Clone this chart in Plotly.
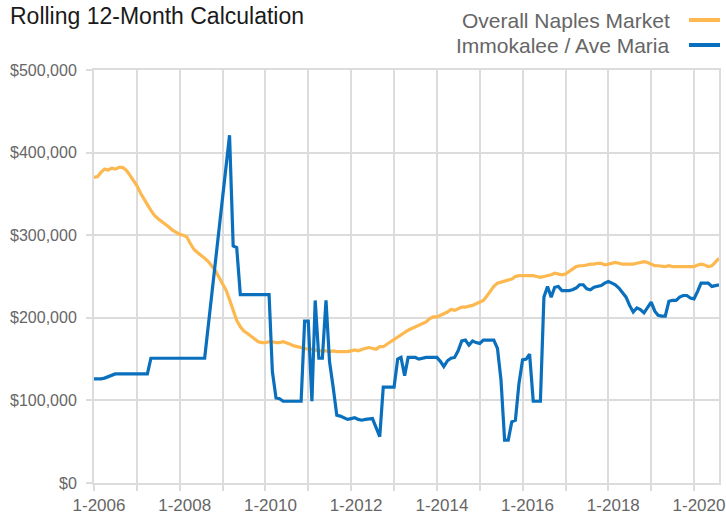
import pandas as pd
import plotly.graph_objects as go

# Monthly observations, Jan 2006 through Aug 2020
months = pd.date_range("2006-01-01", periods=176, freq="MS")

tick_years = list(range(2006, 2021, 2))
tick_vals = [f"{y}-01-01" for y in tick_years]
tick_text = [f"1-{y}" for y in tick_years]

series_names = ["Overall Naples Market", "Immokalee / Ave Maria"]
series_colors = ["#fdb84f", "#0a70bd"]

# Rolling 12-month values, in thousands of dollars
naples_k = [
    370, 371, 376, 380, 379, 381, 380, 382, 382, 379, 373, 367,
    360, 351, 345, 337, 330, 324, 320, 317, 314, 310, 306, 303,
    301, 300, 298, 290, 283, 279, 276, 272, 268, 263, 257, 249,
    240, 233, 222, 208, 197, 189, 184, 181, 178, 174, 171, 170,
    170, 171, 171, 170, 170, 171, 170, 168, 166, 165, 164, 163,
    162, 162, 161, 160, 160, 160, 159, 160, 159, 159, 159, 159,
    160, 161, 160, 162, 163, 164, 163, 162, 165, 165, 168, 171,
    174, 177, 180, 183, 185, 187, 189, 191, 193, 195, 199, 201,
    201, 203, 205, 207, 210, 209, 211, 213, 213, 214, 215, 217,
    219, 221, 226, 232, 238, 242, 243, 244, 245, 247, 250, 251,
    251, 251, 251, 251, 250, 249, 250, 251, 252, 254, 253, 252,
    253, 256, 258, 262, 263, 263, 264, 265, 265, 266, 266, 264,
    265, 266, 267, 266, 265, 265, 265, 265, 266, 267, 268, 267,
    265, 263, 263, 262, 262, 263, 262, 262, 262, 262, 262, 262,
    262, 264, 265, 264, 262, 263, 267, 272,
]

# None marks months with no sales; the line is drawn straight across them
immokalee_k = [
    126, 126, 126, 127, 129, 130, 132, 132, 132, 132, 132, 132,
    132, 132, 132, 132, 151, 151, 151, 151, 151, 151, 151, 151,
    151, 151, 151, 151, 151, 151, 151, 151, None, None, None, None,
    None, None, 421, 287, 285, 228, 228, 228, 228, 228, 228, 228,
    228, 228, 135, 103, 102, 99, 99, 99, 99, 99, 99, 196,
    196, 99, 221, 151, 151, 221, 147, 116, 82, 81, 79, 77,
    78, 79, 77, 76, 77, 78, 78, 67, 56, 116, 116, 116,
    116, 150, 152, 130, 152, 152, 152, 150, 151, 152, 152, 152,
    152, 147, 141, 148, 151, 152, 160, 172, 173, 167, 172, 170,
    169, 173, 173, 173, 173, 163, 125, 52, 52, 74, 76, 120,
    149, 150, 156, 99, 99, 99, 225, 238, 225, 237, 238, 233,
    233, 233, 234, 236, 240, 240, 235, 234, 237, 238, 239, 242,
    244, 242, 240, 236, 231, 225, 215, 207, 212, 210, 206, 212,
    219, 208, 203, 202, 202, 220, 221, 221, 225, 227, 227, 224,
    223, 232, 242, 242, 242, 238, 239, 240,
]


def to_dollars(values):
    return [None if v is None else v * 1000 for v in values]


GRID = "#dcdcdc"
LABEL_GRAY = "#666666"

fig = go.Figure()
fig.add_trace(go.Scatter(
    x=months, y=to_dollars(naples_k), name=series_names[0], mode="lines",
    line=dict(color=series_colors[0], width=3.2),
))
fig.add_trace(go.Scatter(
    x=months, y=to_dollars(immokalee_k), name=series_names[1], mode="lines",
    connectgaps=True, line=dict(color=series_colors[1], width=3.2),
))

fig.update_layout(
    width=726, height=515,
    margin=dict(l=94, r=7, t=70, b=32),
    paper_bgcolor="white", plot_bgcolor="white",
    showlegend=False,
    font=dict(family="Liberation Sans, Arial, sans-serif"),
    title=dict(
        text="Rolling 12-Month Calculation",
        x=10 / 726, xanchor="left", xref="container",
        y=1 - 16 / 515, yanchor="middle", yref="container",
        font=dict(size=23, color="#1a1a1a"),
    ),
)

fig.update_xaxes(
    type="date", range=["2006-01-01", "2020-08-01"], automargin=False,
    tickmode="array", tickvals=tick_vals, ticktext=tick_text,
    ticklabelshift=5,
    tickfont=dict(size=17, color=LABEL_GRAY),
    showgrid=True, gridcolor=GRID, gridwidth=2,
    ticks="outside", ticklen=6, tickcolor=GRID, tickwidth=2,
    minor=dict(dtick="M12", tick0="2006-01-01", showgrid=True,
               gridcolor=GRID, gridwidth=2, ticks="outside",
               ticklen=6, tickcolor=GRID, tickwidth=2),
    showline=True, mirror=True, linecolor=GRID, linewidth=2,
    zeroline=False,
)
fig.update_yaxes(
    range=[0, 500000], tick0=0, dtick=100000, automargin=False,
    tickprefix="$", tickformat=",d",
    tickfont=dict(size=16, color=LABEL_GRAY),
    ticklabelstandoff=6,
    showgrid=True, gridcolor=GRID, gridwidth=2,
    ticks="outside", ticklen=6, tickcolor=GRID, tickwidth=2,
    showline=True, mirror=True, linecolor=GRID, linewidth=2,
    zeroline=False,
)

# Legend: label on the left, line swatch on the right
legend_rows_px = [20, 45]
plot_left, plot_w, plot_bottom, plot_h = 94, 625, 483, 413
for name, color, row in zip(series_names, series_colors, legend_rows_px):
    y = (plot_bottom - row) / plot_h
    fig.add_annotation(
        text=name, xref="paper", yref="paper",
        x=(672 - plot_left) / plot_w, y=y, xanchor="right", yanchor="middle",
        showarrow=False, font=dict(size=21, color=LABEL_GRAY),
    )
    fig.add_shape(
        type="line", xref="paper", yref="paper",
        x0=(689 - plot_left) / plot_w, x1=(720 - plot_left) / plot_w,
        y0=y, y1=y, line=dict(color=color, width=4),
    )

fig.write_html("out.html")
